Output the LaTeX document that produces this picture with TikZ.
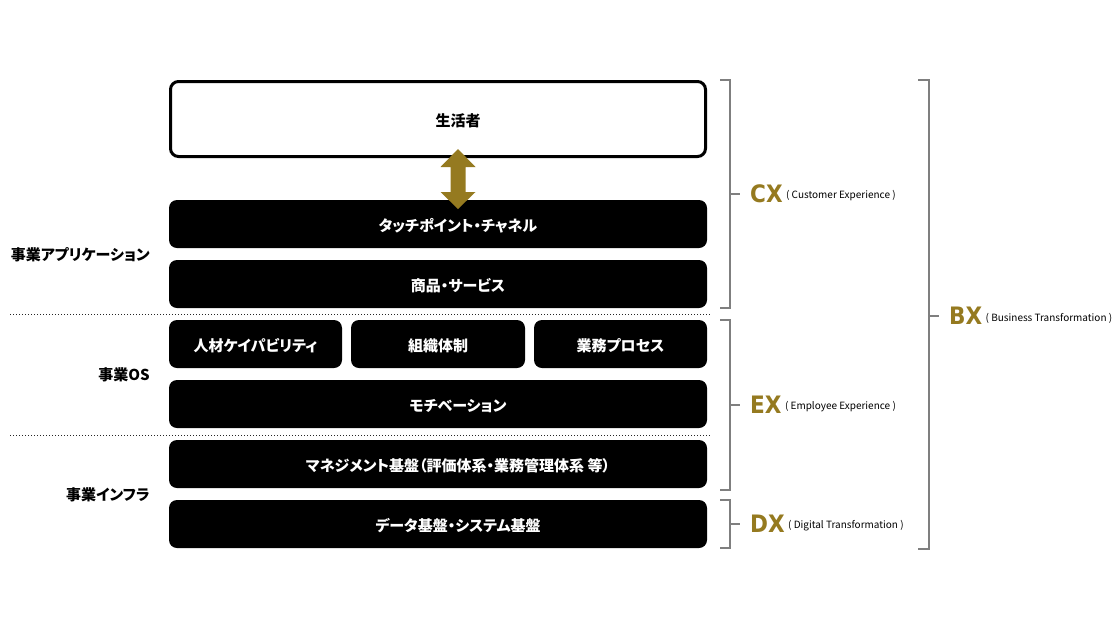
\documentclass[tikz,border=0pt]{standalone}
\usepackage{fontspec}
\setmainfont{Noto Sans CJK JP}[RawFeature=+palt]
\newfontfamily\xfont{DejaVu Sans Condensed}
\usetikzlibrary{positioning}
\definecolor{gold}{HTML}{957A20}
\definecolor{brk}{HTML}{7F7F7F}
\tikzset{
  bbox/.style={fill=black, rounded corners=8pt, text=white, font=\bfseries\fontsize{15}{17}\selectfont, inner sep=0pt, text depth=0pt, text height=14.5pt},
  wide/.style={bbox, minimum width=538pt, minimum height=48pt, execute at begin node={\hspace*{40pt}}},
  wbox/.style={fill=white, draw=black, line width=3pt, rounded corners=8pt, font=\bfseries\fontsize{15}{17}\selectfont, inner sep=0pt, text depth=0pt, text height=14.5pt, execute at begin node={\hspace*{40pt}}},
  bracketline/.style={draw=brk, line width=1.4pt},
  sep/.style={draw=black!85, line width=0.8pt, dash pattern=on 1pt off 2pt},
  lbl/.style={font=\bfseries\fontsize{15}{17}\selectfont, anchor=east, inner sep=0pt},
  big/.style={text=gold, font=\xfont\bfseries\fontsize{24}{26}\selectfont, anchor=west, inner sep=0pt},
  sub/.style={font=\fontsize{10}{12}\selectfont, anchor=west, inner sep=0pt, yshift=-2pt},
  arr/.style={fill=gold, draw=none}
}
\begin{document}
\begin{tikzpicture}[x=1pt,y=-1pt]
\useasboundingbox (0,0) rectangle (1120,630);
% boxes
\node[wbox, minimum width=535pt, minimum height=75pt] (sei) at (438,119) {生活者};
\node[wide] (tp) at (438,224) {タッチポイント・チャネル};
\node[wide] (sh) at (438,284) {商品・サービス};
\node[bbox, minimum width=173pt, minimum height=48pt] (jz) at (255.5,344) {人材ケイパビリティ};
\node[bbox, minimum width=174pt, minimum height=48pt] (sk) at (438,344) {組織体制};
\node[bbox, minimum width=173pt, minimum height=48pt] (gp) at (620.5,344) {業務プロセス};
\node[wide] (mo) at (438,404) {モチベーション};
\node[wide] (mg) at (438,464) {マネジメント基盤（評価体系・業務管理体系 等）};
\node[wide] (dt) at (438,524) {データ基盤・システム基盤};
% double arrow
\coordinate (atop) at (458,149);
\coordinate (abot) at (458,209);
\fill[arr] (atop) -- ++(17.5,18) -- ++(-10,0) -- ++(0,25) -- ++(10,0) -- (abot) -- ++(-17.5,-17) -- ++(10,0) -- ++(0,-25) -- ++(-10,0) -- cycle;
% separators
\coordinate (s1a) at (10,314); \coordinate (s1b) at (710,314);
\coordinate (s2a) at (10,435); \coordinate (s2b) at (710,435);
\draw[sep] (s1a) -- (s1b);
\draw[sep] (s2a) -- (s2b);
% left labels
\node[lbl] (la) at (150,255) {事業アプリケーション};
\node[lbl] (lo) at (150,375) {事業OS};
\node[lbl] (li) at (150,495) {事業インフラ};
% brackets
\draw[bracketline] (720,80) -- (730,80) -- (730,308) -- (720,308);
\draw[bracketline] (730,194) -- (740,194);
\draw[bracketline] (720,320) -- (730,320) -- (730,490) -- (720,490);
\draw[bracketline] (730,405) -- (740,405);
\draw[bracketline] (720,500) -- (730,500) -- (730,548) -- (720,548);
\draw[bracketline] (730,524) -- (740,524);
\draw[bracketline] (918,80) -- (929,80) -- (929,549) -- (918,549);
\draw[bracketline] (929,316) -- (939,316);
% right labels
\node[big] (cx) at (750,194) {CX};
\node[sub] (cxs) at (cx.east) [xshift=3pt] {( Customer Experience )};
\node[big] (ex) at (750,405) {EX};
\node[sub] (exs) at (ex.east) [xshift=3pt] {( Employee Experience )};
\node[big] (dx) at (750,524) {DX};
\node[sub] (dxs) at (dx.east) [xshift=3pt] {( Digital Transformation )};
\node[big] (bx) at (949,316) {BX};
\node[sub] (bxs) at (bx.east) [xshift=3pt] {( Business Transformation )};
\end{tikzpicture}
\end{document}
